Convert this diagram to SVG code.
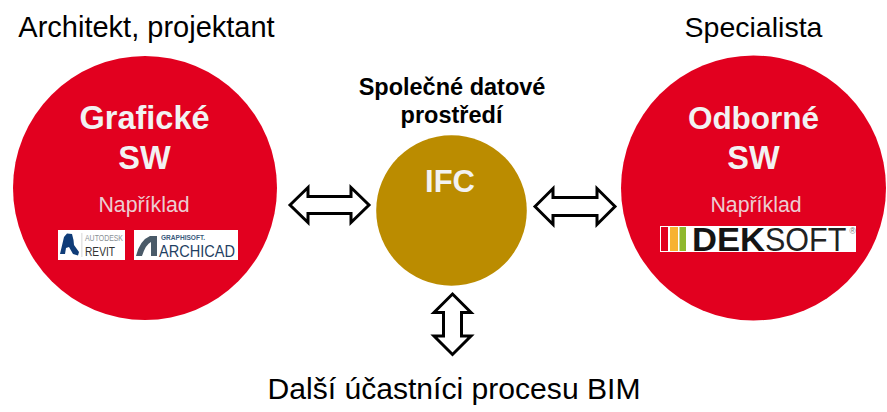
<svg xmlns="http://www.w3.org/2000/svg" width="887" height="412" viewBox="0 0 887 412">
<style>
text{font-family:"Liberation Sans",Arial,sans-serif;text-anchor:middle}
.cap{font-size:29px;fill:#000}
.h{font-size:32.500px;font-weight:bold;fill:#f2f2f2}
.n{font-size:21.300px;fill:#eccdd2}
.lg{text-anchor:start}
.red{fill:#e2001f}
.ar{fill:#fff;stroke:#000;stroke-width:3;stroke-linejoin:miter}
</style>
<rect width="887" height="412" fill="#fff"/>
<g id="connectors">
<path class="ar" d="M290 205L308 187.500V196.500H351V187.500L369 205L351 222.500V213.500H308V222.500Z"/>
<path class="ar" d="M535 206.500L553 188.500V197.500H597V188.500L615 206.500L597 224.500V215.500H553V224.500Z"/>
<path class="ar" d="M452.500 294L471 312.500H461.500V336H471L452.500 354.500L434 336H443.500V312.500H434Z"/>
</g>
<g id="architekt">
<text class="cap" x="146.500" y="37">Architekt, projektant</text>
</g>
<g id="graficke">
<circle class="red" cx="145" cy="188" r="132"/>
<text class="h" x="144.500" y="129">Grafické</text>
<text class="h" x="144.500" y="169">SW</text>
<text class="n" x="144" y="212">Například</text>
<g id="revit">
<rect x="58" y="230" width="67" height="30" fill="#fff"/>
<path d="M60 254L64 237L67 233.500L72 234L73.500 240L74 245L79 252L78 255.500L73 254L69 247L66 248L65 254Z" fill="#0f3c78"/>
<rect x="81.500" y="233" width="0.800" height="24" fill="#ccc"/>
<text class="lg" x="85" y="241" font-size="8.500" fill="#8a8f95" textLength="38" lengthAdjust="spacingAndGlyphs">AUTODESK</text>
<text class="lg" x="85" y="255.500" font-size="13" fill="#333" textLength="30" lengthAdjust="spacingAndGlyphs">REVIT</text>
</g>
<g id="archicad">
<rect x="134" y="230" width="104" height="30" fill="#fff"/>
<path d="M136 256Q140 240 150 236H157V256H151V242Q146 244 142 256Z" fill="#4a5a68"/>
<text class="lg" x="161" y="239.500" font-size="8" font-weight="bold" fill="#3a5a7c" textLength="44" lengthAdjust="spacingAndGlyphs">GRAPHISOFT.</text>
<text class="lg" x="159" y="256.500" font-size="16.500" fill="#1f3f63" textLength="76" lengthAdjust="spacingAndGlyphs">ARCHICAD</text>
</g>
</g>
<g id="ifc">
<text x="452" y="95" font-size="23.500" font-weight="bold" fill="#000">Společné datové</text>
<text x="451.500" y="123" font-size="23.500" font-weight="bold" fill="#000">prostředí</text>
<circle cx="451.500" cy="210.500" r="75.300" fill="#bb8c00"/>
<text x="450" y="192" font-size="31" font-weight="bold" fill="#f2f2f2">IFC</text>
</g>
<g id="specialista">
<text class="cap" style="font-size:28.500px" x="753.500" y="37">Specialista</text>
</g>
<g id="odborne">
<circle class="red" cx="753.500" cy="188" r="132.500"/>
<text class="h" style="font-size:31.500px" x="753.500" y="129">Odborné</text>
<text class="h" x="753.500" y="169">SW</text>
<text class="n" x="756" y="212">Například</text>
<g id="deksoft">
<rect x="660" y="226" width="196" height="26" fill="#fff"/>
<rect x="661" y="227" width="7" height="24" fill="#e2001f"/>
<rect x="670" y="227" width="8" height="24" fill="#f7b232"/>
<rect x="679.500" y="227" width="6.500" height="24" fill="#8fb82c"/>
<text class="lg" x="692" y="251" font-size="33.500" font-weight="bold" fill="#141414" textLength="73" lengthAdjust="spacingAndGlyphs">DEK</text>
<text class="lg" transform="translate(765 251) scale(.91 1)" font-size="33.500" fill="#222">SOFT</text>
<text class="lg" x="849.500" y="234" font-size="8.500" fill="#777">®</text>
</g>
</g>
<g id="dalsi">
<text class="cap" style="font-size:30.100px" x="454" y="399">Další účastníci procesu BIM</text>
</g>
</svg>
